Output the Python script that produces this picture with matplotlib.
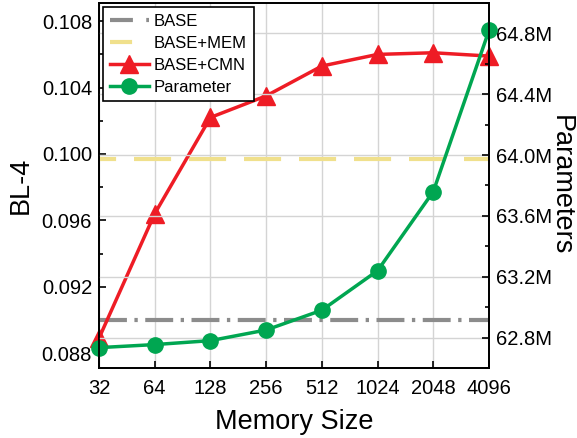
import matplotlib.pyplot as plt
from matplotlib.lines import Line2D
from matplotlib.ticker import MultipleLocator, FuncFormatter

plt.rcParams['font.family'] = ['Liberation Sans', 'DejaVu Sans']

# data
memory_sizes = ['32', '64', '128', '256', '512', '1024', '2048', '4096']
base_bl4 = 0.0900
base_mem_bl4 = 0.0997
cmn_bl4 = [0.0889, 0.0964, 0.1022, 0.1035, 0.1053, 0.1060, 0.1061, 0.1059]
params_m = [62.734, 62.754, 62.78, 62.85, 62.98, 63.24, 63.76, 64.82]

grey = '#8c8c8c'
yellow = '#f0e08c'
red = '#ee1c25'
green = '#00a651'

x = list(range(len(memory_sizes)))

fig = plt.figure(figsize=(5.77, 4.38), dpi=100)
ax = fig.add_axes([0.1716, 0.1598, 0.6759, 0.8334])
ax2 = ax.twinx()

ax.axhline(base_bl4, color=grey, lw=3, ls=(0, (6.7, 1.8, 0.8, 1.8)))
ax.axhline(base_mem_bl4, color=yellow, lw=3, ls=(4.8, (8.9, 4.3)))
ax.plot(x, cmn_bl4, color=red, lw=2.5, marker='^', ms=13, clip_on=False)
ax2.plot(x, params_m, color=green, lw=2.5, marker='o', ms=11, clip_on=False)

ax.set_xlim(0, 7)
ax.set_ylim(0.0871, 0.1091)
ax2.set_ylim(62.6, 65.0)

ax.set_xticks(x)
ax.set_xticklabels(memory_sizes)
ax.yaxis.set_major_locator(MultipleLocator(0.004))
ax.yaxis.set_minor_locator(MultipleLocator(0.002))
ax.yaxis.set_major_formatter(FuncFormatter(lambda v, p: f'{v:.3f}'))
ax2.yaxis.set_major_locator(MultipleLocator(0.4))
ax2.yaxis.set_minor_locator(MultipleLocator(0.2))
ax2.yaxis.set_major_formatter(FuncFormatter(lambda v, p: f'{v:.1f}M'))

ax.xaxis.grid(True, color='#d4d4d4', lw=1)
ax2.yaxis.grid(True, color='#d4d4d4', lw=1)
ax.set_axisbelow(True)

for a in (ax, ax2):
    a.tick_params(direction='in', labelsize=14.5, length=5, width=1.2, pad=5)
    a.tick_params(which='minor', direction='in', length=3, width=1.2)
    for s in a.spines.values():
        s.set_linewidth(1.3)
ax.tick_params(axis='x', pad=8)

ax.set_xlabel('Memory Size', fontsize=19.5, labelpad=8)
ax.set_ylabel('BL-4', fontsize=19.5, labelpad=6)
ax2.set_ylabel('Parameters', fontsize=19.5, rotation=270, va='center')
ax2.yaxis.set_label_coords(1.185, 0.5)

# legend handles drawn with the shorter dashes seen in the legend box
handles = [
    Line2D([], [], color=grey, lw=3, ls=(0, (5.5, 3.2, 1, 3))),
    Line2D([], [], color=yellow, lw=3, ls=(0, (5.3, 10))),
    Line2D([], [], color=red, lw=2.5, marker='^', ms=13),
    Line2D([], [], color=green, lw=2.5, marker='o', ms=11),
]
labels = ['BASE', 'BASE+MEM', 'BASE+CMN', 'Parameter']
leg = ax2.legend(handles, labels, loc='upper left', fontsize=12,
                 frameon=True, fancybox=False, edgecolor='black', framealpha=1,
                 handlelength=2.35, handletextpad=0.3, labelspacing=0.42,
                 borderpad=0.4, borderaxespad=0.25)
leg.get_frame().set_linewidth(1.2)

fig.savefig('out.png', dpi=100)
